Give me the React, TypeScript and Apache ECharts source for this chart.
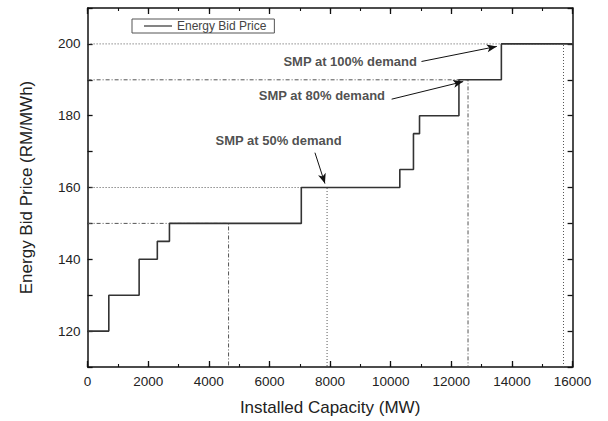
import React, { useEffect, useRef } from "react";
import * as echarts from "echarts";

// Merit-order bid stack: capacity breakpoints (MW) and bid prices (RM/MWh)
const capacityBreaks = [0, 700, 1700, 2300, 2700, 7050, 10300, 10750, 10950, 12250, 13650, 16000];
const bidPrices = [120, 130, 140, 145, 150, 160, 165, 175, 180, 190, 200, 200];

// Demand levels with the system marginal price they clear at
const demandCapacity = [4650, 7900, 12550, 15700];
const demandPrice = [150, 160, 190, 200];

// Annotation texts, their anchor points and arrow ends
const noteTexts = ["SMP at 50% demand", "SMP at 80% demand", "SMP at 100% demand"];
const notePos = [[6300, 173], [7730, 185.6], [8660, 195]];
const arrowFrom = [[7500, 169.7], [10030, 184.6], [11015, 195.1]];
const arrowTo = [[7830, 161.1], [12390, 189.5], [13500, 199.3]];

const xTicks = { min: 0, max: 16000, major: 2000, minor: 1000 };
const yTicks = { min: 110, max: 210, step: 10, labelFrom: 120, labelTo: 200, labelStep: 20 };

const FONT = "Liberation Sans, Arial, sans-serif";

export default function App() {
  const ref = useRef<HTMLDivElement>(null);

  useEffect(() => {
    document.body.style.margin = "0";
    if (!ref.current) return;
    const chart = echarts.init(ref.current, null, { renderer: "svg" });

    const axisLine = { show: true, onZero: false, lineStyle: { color: "#111", width: 1.5 } };
    const noLine = { show: false, onZero: false };
    const majorTick = { show: true, inside: true, length: 6, lineStyle: { color: "#111", width: 1.3 } };
    const minorTickStyle = { show: true, inside: true, length: 3, lineStyle: { color: "#111", width: 1.1 } };

    const xBase = { type: "value", min: xTicks.min, max: xTicks.max, splitLine: { show: false } };
    const yBase = { type: "value", min: yTicks.min, max: yTicks.max, interval: yTicks.step, splitLine: { show: false } };

    const styles: any[] = [[4, 2, 1, 2], [1, 2], [4, 2, 1, 2], [1, 2]];

    const guideSeries = demandCapacity.map((x, i) => ({
      type: "line",
      silent: true,
      symbol: "none",
      z: 1,
      data: [
        [0, demandPrice[i]],
        [x, demandPrice[i]],
        [x, yTicks.min],
      ],
      lineStyle: { color: "#555", width: 1, type: styles[i] },
    }));

    chart.setOption({
      animation: false,
      grid: { left: 87.6, right: 35.4, top: 8, bottom: 53 },
      legend: {
        data: [{ name: "Energy Bid Price", icon: "rect" }],
        left: 132,
        top: 19,
        itemWidth: 28,
        itemHeight: 1.2,
        itemGap: 3,
        padding: [1, 8, 1, 12],
        borderColor: "#555",
        borderWidth: 1,
        textStyle: { fontFamily: FONT, fontSize: 12, color: "#444", padding: [0, 0, 0, 0] },
      },
      xAxis: [
        {
          ...xBase,
          interval: xTicks.major,
          name: "Installed Capacity (MW)",
          nameLocation: "middle",
          nameGap: 32,
          nameTextStyle: { fontFamily: FONT, fontSize: 17, color: "#222" },
          axisLine,
          axisTick: majorTick,
          axisLabel: {
            fontFamily: FONT,
            fontSize: 13.5,
            color: "#222",
            margin: 7,
            formatter: (v: number) => String(v),
          },
        },
        { ...xBase, position: "top", interval: xTicks.major, axisLine, axisTick: majorTick, axisLabel: { show: false } },
        { ...xBase, position: "bottom", interval: xTicks.minor, axisLine: noLine, axisTick: minorTickStyle, axisLabel: { show: false } },
        { ...xBase, position: "top", interval: xTicks.minor, axisLine: noLine, axisTick: minorTickStyle, axisLabel: { show: false } },
      ],
      yAxis: [
        {
          ...yBase,
          name: "Energy Bid Price (RM/MWh)",
          nameLocation: "middle",
          nameGap: 53,
          nameTextStyle: { fontFamily: FONT, fontSize: 17, color: "#222" },
          axisLine,
          axisTick: { ...majorTick, length: 5 },
          axisLabel: {
            fontFamily: FONT,
            fontSize: 13.5,
            color: "#222",
            margin: 7,
            formatter: (v: number) =>
              v >= yTicks.labelFrom && v <= yTicks.labelTo && (v - yTicks.labelFrom) % yTicks.labelStep === 0
                ? String(v)
                : "",
          },
        },
        { ...yBase, position: "right", axisLine, axisTick: { ...majorTick, length: 5 }, axisLabel: { show: false } },
      ],
      series: [
        ...guideSeries,
        {
          name: "Energy Bid Price",
          type: "line",
          step: "end",
          symbol: "none",
          z: 3,
          data: capacityBreaks.map((x, i) => [x, bidPrices[i]]),
          lineStyle: { color: "#333", width: 1.6 },
          itemStyle: { color: "#333" },
          markLine: {
            silent: true,
            symbol: ["none", "arrow"],
            symbolSize: [6, 10],
            label: { show: false },
            lineStyle: { color: "#111", width: 1, type: "solid" },
            data: arrowFrom.map((p, i) => [{ coord: p }, { coord: arrowTo[i] }]),
          },
        },
        {
          type: "scatter",
          silent: true,
          symbolSize: 0,
          z: 4,
          data: notePos.map((p, i) => ({ value: p, name: noteTexts[i] })),
          label: {
            show: true,
            position: "inside",
            formatter: (p: any) => p.name,
            fontFamily: FONT,
            fontSize: 13,
            fontWeight: "bold",
            color: "#222",
          },
        },
      ],
    });

    return () => chart.dispose();
  }, []);

  return <div ref={ref} style={{ width: 608, height: 421 }} />;
}
